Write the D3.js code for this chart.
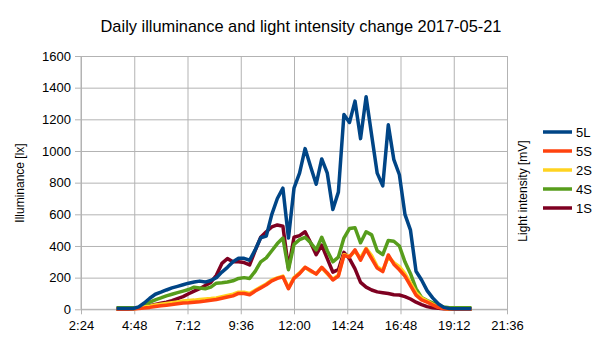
<!DOCTYPE html>
<html>
<head>
<meta charset="utf-8">
<script src="https://cdn.jsdelivr.net/npm/d3@7"></script>
<style>
  html, body { margin: 0; padding: 0; background: #fff; }
  svg { display: block; font-family: "Liberation Sans", Arial, sans-serif; }
</style>
</head>
<body>
<svg id="chart" width="605" height="340"></svg>
<script>
// ---- data ----
const times = [
  "4:00","4:15","4:30","4:45","5:00","5:15","5:30","5:45","6:00","6:15",
  "6:30","6:45","7:00","7:15","7:30","7:45","8:00","8:15","8:30","8:45",
  "9:00","9:15","9:30","9:45","10:00","10:15","10:30","10:45","11:00","11:15",
  "11:30","11:45","12:00","12:15","12:30","12:45","13:00","13:15","13:30","13:45",
  "14:00","14:15","14:30","14:45","15:00","15:15","15:30","15:45","16:00","16:15",
  "16:30","16:45","17:00","17:15","17:30","17:45","18:00","18:15","18:30","18:45",
  "19:00","19:15","19:30","19:45","20:00"
];
const s5L = [
  5,5,5,5,15,40,70,95,108,122,
  135,145,155,165,172,178,172,182,200,235,
  265,300,322,322,310,375,452,462,600,700,
  765,450,765,860,1015,900,790,950,860,630,
  740,1230,1180,1315,1078,1342,1100,860,780,1165,
  945,850,600,500,240,185,118,72,35,12,
  5,3,3,3,3
];
const s5S = [
  0,0,0,2,5,8,12,18,22,26,
  30,35,40,42,45,48,52,57,62,70,
  78,85,100,100,92,115,135,155,180,195,
  205,130,195,225,265,245,222,265,230,185,
  210,340,330,375,310,380,320,260,238,343,
  285,250,210,150,90,60,45,28,12,5,
  2,0,0,0,0
];
const s2S = [
  0,0,0,3,8,14,20,27,32,37,
  42,47,52,55,58,62,65,68,72,80,
  88,95,108,108,100,120,140,160,185,198,
  210,135,200,230,265,240,225,262,225,190,
  215,345,335,365,325,385,340,270,245,330,
  295,270,225,165,105,72,52,32,15,6,
  2,0,0,0,0
];
const s4S = [
  10,10,10,10,12,25,45,60,72,85,
  95,105,115,125,140,135,130,140,165,168,
  172,180,195,200,195,240,300,325,370,415,
  450,250,410,440,455,420,375,455,370,300,
  330,450,510,515,420,490,470,370,345,435,
  430,400,300,225,130,75,55,40,25,15,
  10,10,10,10,10
];
const s1S = [
  0,0,2,5,10,15,22,30,38,45,
  55,68,80,98,115,130,150,170,215,290,
  320,300,300,295,280,370,455,490,520,533,
  525,260,455,465,490,420,345,405,320,235,
  250,360,320,255,170,140,122,110,105,100,
  92,90,80,65,45,30,17,10,6,3,
  2,2,2,2,2
];
const seriesNames = ["5L","5S","2S","4S","1S"];
const seriesColors = ["#004586","#ff420e","#ffd320","#579d1c","#7e0021"];
const xTickLabels = ["2:24","4:48","7:12","9:36","12:00","14:24","16:48","19:12","21:36"];
const yTicks = [0,200,400,600,800,1000,1200,1400,1600];
const title = "Daily illuminance and light intensity change 2017-05-21";
const yTitle = "Illuminance [lx]";
const y2Title = "Light intensity [mV]";

// ---- helpers ----
const toHours = s => { const [h, m] = s.split(":").map(Number); return h + m / 60; };
const seriesData = [s5L, s5S, s2S, s4S, s1S];

// ---- layout ----
const svg = d3.select("#chart");
const L = 81, R = 507, T = 56, B = 309.3;
const grid = "#b3b3b3";

const x = d3.scaleLinear().domain([toHours(xTickLabels[0]), toHours(xTickLabels[xTickLabels.length - 1])]).range([L, R]);
const y = d3.scaleLinear().domain([0, 1600]).range([B, T]);

// y axis with gridlines
const yAxis = d3.axisLeft(y).tickValues(yTicks).tickSize(-(R - (L - 6))).tickPadding(4).tickFormat(d3.format("d"));
const gy = svg.append("g").attr("transform", `translate(${L - 6},0)`).call(yAxis);
gy.select(".domain").remove();
gy.selectAll(".tick line").attr("stroke", grid);
gy.selectAll(".tick text").attr("fill", "#000").style("font-size", "13px").style("font-family", "Liberation Sans, Arial, sans-serif");

// x axis with gridlines
const xAxis = d3.axisBottom(x).tickValues(xTickLabels.map(toHours)).tickSize(-((B + 5) - T)).tickPadding(6)
  .tickFormat((d, i) => xTickLabels[i]);
const gx = svg.append("g").attr("transform", `translate(0,${B + 5})`).call(xAxis);
gx.select(".domain").remove();
gx.selectAll(".tick line").attr("stroke", grid);
gx.selectAll(".tick text").attr("fill", "#000").style("font-size", "13px").style("font-family", "Liberation Sans, Arial, sans-serif");

// axis lines
svg.append("line").attr("x1", L).attr("x2", L).attr("y1", T).attr("y2", B).attr("stroke", grid);
svg.append("line").attr("x1", L).attr("x2", R).attr("y1", B).attr("y2", B).attr("stroke", grid);

// series lines (drawn last-to-first so 5L is on top)
const line = d3.line().x((d, i) => x(toHours(times[i]))).y(d => y(d));
for (let k = seriesData.length - 1; k >= 0; k--) {
  svg.append("path")
    .datum(seriesData[k])
    .attr("d", line)
    .attr("fill", "none")
    .attr("stroke", seriesColors[k])
    .attr("stroke-width", 3.5)
    .attr("stroke-linejoin", "round")
    .attr("stroke-linecap", "butt");
}

// title
svg.append("text").attr("x", 301).attr("y", 32).attr("text-anchor", "middle")
  .style("font-size", "16.4px").attr("fill", "#000").text(title);

// axis titles
svg.append("text").attr("transform", "translate(24,183) rotate(-90)").attr("text-anchor", "middle")
  .style("font-size", "12px").attr("fill", "#000").text(yTitle);
svg.append("text").attr("transform", "translate(527,191) rotate(-90)").attr("text-anchor", "middle")
  .style("font-size", "12px").attr("fill", "#000").text(y2Title);

// legend
const lg = svg.append("g");
seriesNames.forEach((n, i) => {
  const yy = 132 + i * 19;
  lg.append("line").attr("x1", 543).attr("x2", 572).attr("y1", yy).attr("y2", yy)
    .attr("stroke", seriesColors[i]).attr("stroke-width", 3.5);
  lg.append("text").attr("x", 576).attr("y", yy).attr("dy", "0.35em")
    .style("font-size", "13px").attr("fill", "#000").text(n);
});
</script>
</body>
</html>
